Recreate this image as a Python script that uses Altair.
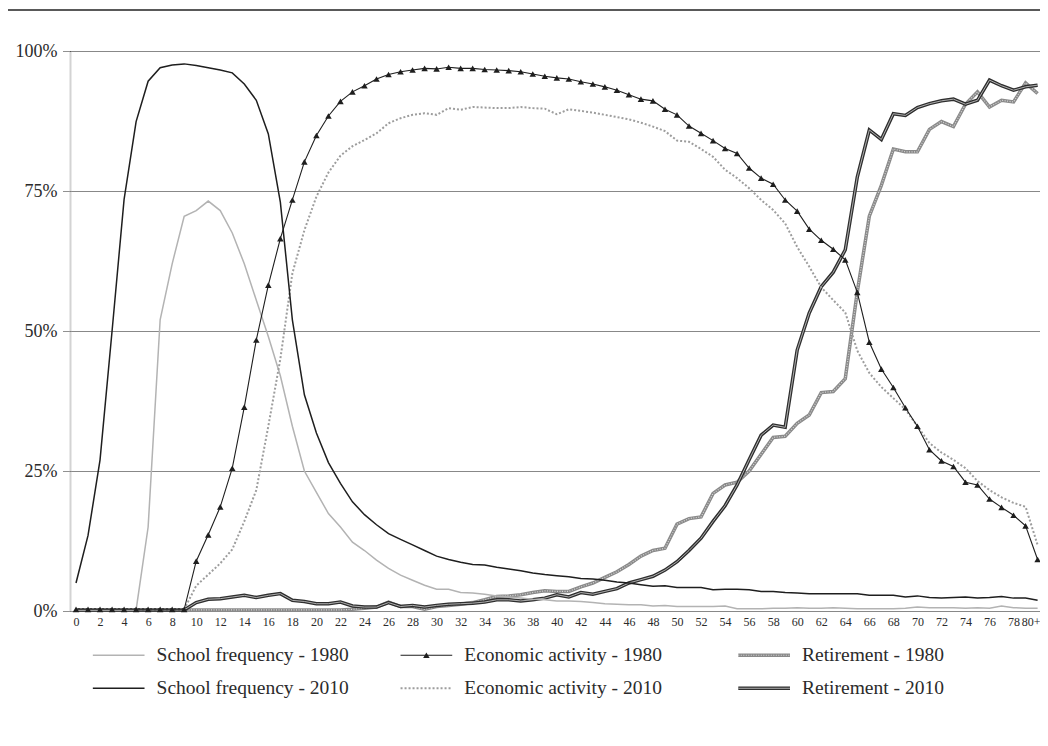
import altair as alt
import pandas as pd

# ---------------- data ----------------
ages = list(range(0, 81))
tick_ages = list(range(0, 81, 2))
y_ticks = [0, 25, 50, 75, 100]

series_names = [
    "School frequency - 1980",
    "Economic activity - 1980",
    "Retirement - 1980",
    "School frequency  - 2010",
    "Economic activity - 2010",
    "Retirement - 2010",
]

school_1980 = [
    0.2, 0.2, 0.2, 0.2, 0.2, 0.2, 15, 52, 62, 70.5,
    71.5, 73.2, 71.5, 67.5, 62, 55.5, 49, 42, 33, 25,
    21.2, 17.4, 15, 12.3, 10.8, 9.1, 7.6, 6.4, 5.5, 4.6,
    3.9, 3.9, 3.3, 3.2, 3.0, 2.7, 2.5, 2.3, 2.1, 2.0,
    1.8, 1.8, 1.7, 1.5, 1.3, 1.2, 1.1, 1.1, 0.9, 1.0,
    0.8, 0.8, 0.8, 0.8, 0.9, 0.4, 0.4, 0.4, 0.5, 0.5,
    0.6, 0.5, 0.5, 0.6, 0.5, 0.4, 0.4, 0.4, 0.4, 0.5,
    0.7, 0.6, 0.6, 0.6, 0.5, 0.6, 0.5, 0.9, 0.6, 0.5,
    0.5,
]
school_2010 = [
    5, 13.5, 27, 50, 73.5, 87.4, 94.6, 97, 97.5, 97.7,
    97.4, 97, 96.6, 96.1, 94.1, 91.2, 85.2, 73, 52, 38.6,
    31.8, 26.5, 22.8, 19.5, 17.2, 15.4, 13.8, 12.8, 11.8, 10.8,
    9.8, 9.2, 8.7, 8.3, 8.2, 7.8, 7.5, 7.2, 6.8, 6.5,
    6.3, 6.1, 5.8, 5.7, 5.5, 5.2, 5.0, 4.7, 4.4, 4.5,
    4.2, 4.2, 4.2, 3.8, 3.9, 3.9, 3.8, 3.5, 3.5, 3.3,
    3.2, 3.1, 3.1, 3.1, 3.1, 3.1, 2.8, 2.8, 2.8, 2.5,
    2.7, 2.4, 2.3, 2.4, 2.5, 2.3, 2.4, 2.6, 2.3, 2.3,
    1.9,
]
econ_1980 = [
    0.3, 0.3, 0.3, 0.3, 0.3, 0.3, 0.3, 0.3, 0.3, 0.3,
    8.9, 13.6, 18.6, 25.5, 36.4, 48.4, 58.2, 66.5, 73.4, 80.2,
    84.9, 88.4, 91.0, 92.7, 93.8, 95.0, 95.8, 96.3, 96.6, 96.9,
    96.8, 97.1, 96.9, 96.9, 96.7, 96.6, 96.5, 96.3, 95.9, 95.5,
    95.2, 95.0, 94.5, 94.1, 93.6, 93.0, 92.2, 91.4, 91.1, 89.6,
    88.6, 86.6, 85.3, 84.0, 82.6, 81.7, 79.1, 77.3, 76.2, 73.4,
    71.4, 68.2, 66.2, 64.6, 62.7, 56.9, 48.0, 43.2, 39.9, 36.3,
    33.0, 28.8, 26.8, 25.8, 23.0, 22.5, 20.0, 18.5, 17.1, 15.2,
    9.2,
]
econ_2010 = [
    0.3, 0.3, 0.3, 0.3, 0.3, 0.3, 0.3, 0.3, 0.3, 0.3,
    4.5, 6.5, 8.5, 11, 16, 21.6, 33, 45, 60.3, 68,
    74, 78.3, 81.3, 83, 84.1, 85.3, 87.1, 88, 88.6, 88.9,
    88.6, 89.8, 89.5, 90.0, 89.9, 89.8, 89.8, 90.0, 89.8, 89.7,
    88.7, 89.6, 89.3, 89.0, 88.6, 88.2, 87.8, 87.2, 86.5, 85.7,
    84.0, 83.8, 82.5, 81.1, 78.8, 77.3, 75.5, 73.4, 71.6, 69.2,
    65.0, 61.5, 57.8, 55.5, 53.3, 46.5, 42.5, 40.0, 38.0, 36.0,
    33.0, 30.0, 28.3, 27.0, 25.5, 23.2, 21.6, 20.3, 19.3, 18.6,
    11.8,
]
retire_1980 = [
    0.2, 0.2, 0.2, 0.2, 0.2, 0.2, 0.2, 0.2, 0.2, 0.2,
    0.2, 0.2, 0.2, 0.2, 0.2, 0.2, 0.2, 0.2, 0.2, 0.2,
    0.2, 0.2, 0.2, 0.3, 0.5, 0.7, 1.6, 0.8, 0.8, 0.3,
    0.8, 1.0, 1.2, 1.5, 2.0, 2.6, 2.7, 2.9, 3.3, 3.6,
    3.5, 3.5, 4.3, 5.0, 6.0, 7.0, 8.3, 9.8, 10.8, 11.2,
    15.5, 16.5, 16.8, 21.0, 22.5, 23.0, 25.0, 28.0, 31.0, 31.2,
    33.5, 35.0, 39.0, 39.2, 41.5, 57.0, 70.5, 76.0, 82.5, 82.0,
    82.0, 86.0, 87.4, 86.5, 90.5, 92.7, 90.0, 91.2, 90.9, 94.3,
    92.4,
]
retire_2010 = [
    0.2, 0.2, 0.2, 0.2, 0.2, 0.2, 0.2, 0.2, 0.2, 0.2,
    1.5, 2.1, 2.2, 2.5, 2.8, 2.4, 2.8, 3.1, 1.9, 1.7,
    1.3, 1.3, 1.6, 0.9, 0.7, 0.7, 1.5, 0.8, 1.0, 0.7,
    1.0, 1.2, 1.3, 1.4, 1.6, 2.0, 2.0, 1.8, 2.0, 2.3,
    2.9, 2.5, 3.3, 3.0, 3.5, 4.0, 5.0, 5.6, 6.2, 7.3,
    8.8, 10.8, 13.0, 16.0, 18.8, 22.5, 27.0, 31.4, 33.2, 32.8,
    46.6, 53.2, 57.9, 60.5, 64.5, 77.5, 85.9, 84.2, 88.8, 88.5,
    89.9, 90.6, 91.1, 91.4, 90.5, 91.2, 94.8, 93.8, 93.0, 93.6,
    93.9,
]

series_values = [school_1980, econ_1980, retire_1980, school_2010, econ_2010, retire_2010]
for v in series_values:
    assert len(v) == len(ages)

rows = []
for name, vals in zip(series_names, series_values):
    for a, v in zip(ages, vals):
        rows.append({"age": a, "value": v, "series": name})
df = pd.DataFrame(rows)

# ---------------- layout / styles ----------------
W, H = 970, 560
FONT = "Liberation Serif"
INK = "#2b2b2b"

x_scale = alt.Scale(domain=[-0.5, 80.2], nice=False, zero=False)
y_scale = alt.Scale(domain=[0, 100], nice=False, zero=False)

x_enc = alt.X(
    "age:Q", scale=x_scale,
    axis=alt.Axis(values=tick_ages, labelExpr="datum.value == 80 ? '80+' : datum.label",
                  grid=False, ticks=False, domain=False, labelFont=FONT, labelFontSize=12,
                  labelColor=INK, labelPadding=5, title=None, labelOverlap=False,
                  labelFlush=False, labelOffset={"expr": "datum.value == 80 ? -7 : 0"}),
)
y_enc = alt.Y(
    "value:Q", scale=y_scale,
    axis=alt.Axis(values=y_ticks, labelExpr="datum.value + '%'", grid=True, gridDash=[1, 1],
                  gridColor="#111", gridWidth=1, domain=True, domainColor="#a8a8a8",
                  domainWidth=2, domainDash=[1, 1], ticks=True, tickSize=8, tickDash=[1, 1],
                  tickColor="#222", labelFont=FONT, labelFontSize=18, labelColor=INK,
                  labelPadding=5, title=None),
)

# legend grid: column of each series and row (1980 / 2010), in axis units
leg_col_start = [1.4, 27.0, 55.1]
leg_sym_len = 4.3
leg_text_gap = 1.0
leg_row_y = [-7.9, -13.8]
sym_rows, tri_rows, txt_rows = [], [], []
for i, name in enumerate(series_names):
    c, r = i % 3, i // 3
    x0 = leg_col_start[c]
    sym_rows.append({"series": name, "age": x0, "age2": x0 + leg_sym_len, "value": leg_row_y[r]})
    tri_rows.append({"series": name, "age": x0 + leg_sym_len / 2, "value": leg_row_y[r]})
    txt_rows.append({"series": name, "age": x0 + leg_sym_len + leg_text_gap, "value": leg_row_y[r]})
leg_sym = pd.DataFrame(sym_rows)
leg_tri = pd.DataFrame(tri_rows)
leg_txt = pd.DataFrame(txt_rows)

styles = {
    "School frequency - 1980": [dict(color="#b3b3b3", strokeWidth=1.5)],
    "School frequency  - 2010": [dict(color="#1e1e1e", strokeWidth=1.5)],
    "Economic activity - 1980": [dict(color="#1e1e1e", strokeWidth=1.1)],
    "Economic activity - 2010": [dict(color="#9d9d9d", strokeWidth=2, strokeDash=[2, 2])],
    "Retirement - 1980": [dict(color="#8a8a8a", strokeWidth=3.5),
                          dict(color="#d6d6d6", strokeWidth=1.2, strokeDash=[1, 1.5])],
    "Retirement - 2010": [dict(color="#2e2e2e", strokeWidth=3.5),
                          dict(color="#bdbdbd", strokeWidth=0.9)],
}
draw_order = ["Retirement - 1980", "Retirement - 2010", "School frequency - 1980",
              "Economic activity - 2010", "School frequency  - 2010", "Economic activity - 1980"]

layers = []
for name in draw_order:
    for st in styles[name]:
        layers.append(
            alt.Chart(df).transform_filter(alt.datum.series == name)
            .mark_line(**st).encode(x=x_enc, y=y_enc, order="age:Q")
        )
        layers.append(
            alt.Chart(leg_sym).transform_filter(alt.datum.series == name)
            .mark_rule(**st).encode(x=x_enc, x2="age2:Q", y=y_enc)
        )
    if name == "Economic activity - 1980":
        tri = dict(shape="triangle-up", filled=True, size=42, color="#1e1e1e", opacity=1)
        layers.append(
            alt.Chart(df).transform_filter(alt.datum.series == name)
            .mark_point(**tri).encode(x=x_enc, y=y_enc)
        )
        layers.append(
            alt.Chart(leg_tri).transform_filter(alt.datum.series == name)
            .mark_point(**tri).encode(x=x_enc, y=y_enc)
        )

layers.append(
    alt.Chart(leg_txt).mark_text(align="left", baseline="middle", font=FONT, fontSize=19.5, color=INK)
    .encode(x=x_enc, y=y_enc, text="series:N")
)

# decorative rule across the top of the page
layers.append(
    alt.Chart(pd.DataFrame({"k": [0]})).mark_rule(color="#222", strokeWidth=1.5)
    .encode(x=alt.value(-62), x2=alt.value(W), y=alt.value(-41))
)

chart = (
    alt.layer(*layers)
    .properties(width=W, height=H, background="white",
                autosize=alt.AutoSizeParams(type="none"),
                padding={"left": 62, "top": 43, "right": 0, "bottom": 110})
    .configure_view(stroke=None)
)

chart.save("out.html", embed_options={"renderer": "svg", "actions": False})
